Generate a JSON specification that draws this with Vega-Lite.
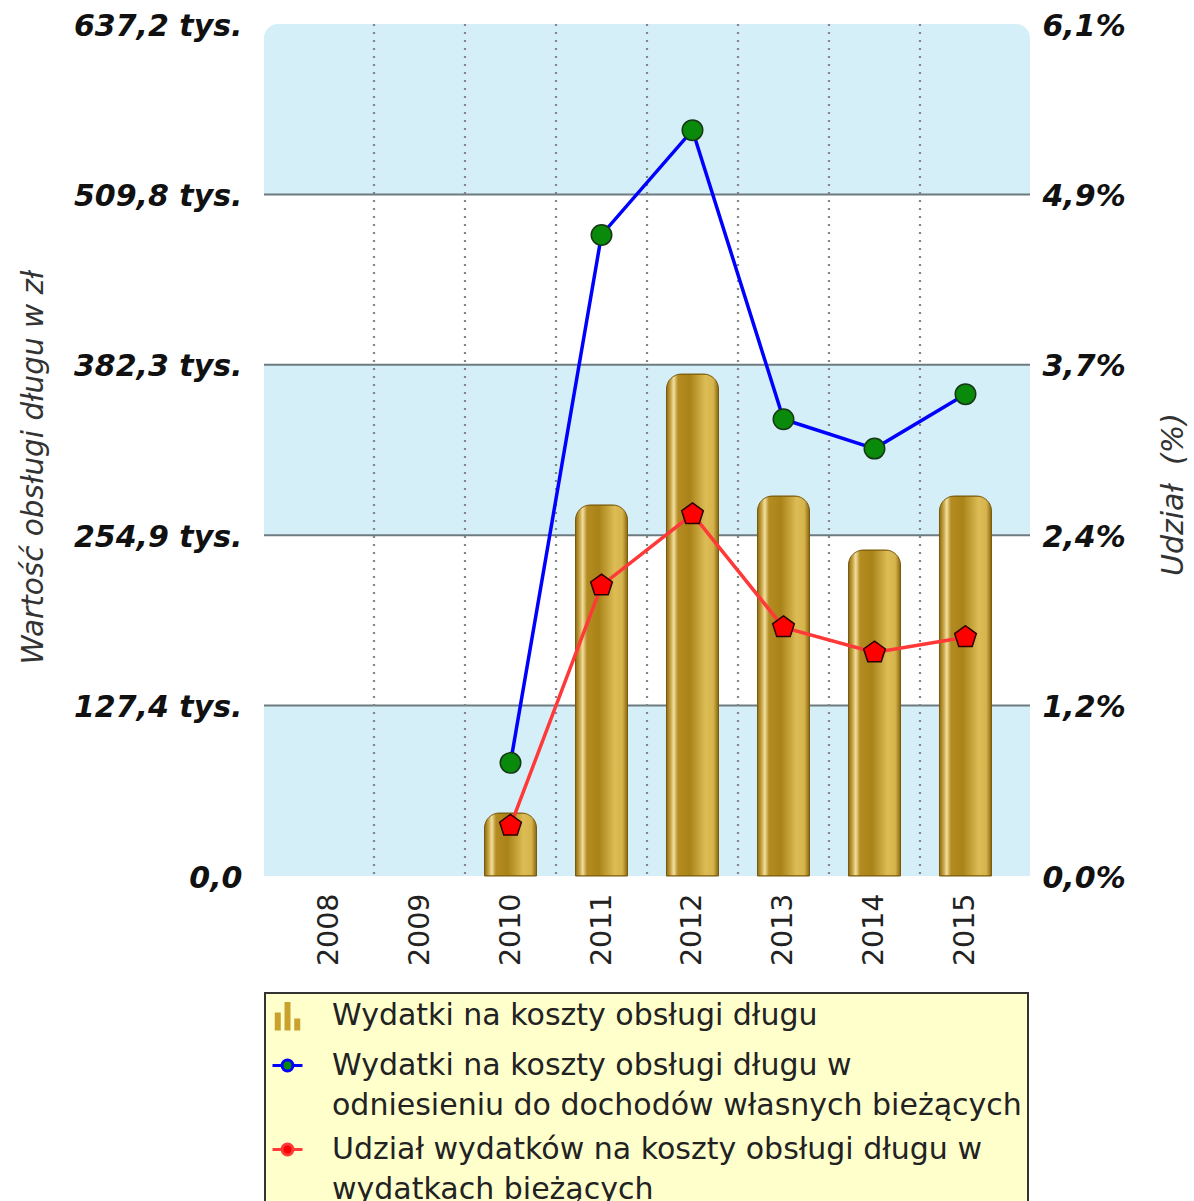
{
  "$schema": "https://vega.github.io/schema/vega-lite/v6.json",
  "autosize": {"type": "none"},
  "padding": {"left": 264, "top": 24, "right": 164, "bottom": 325},
  "width": 766,
  "height": 852,
  "background": "#ffffff",
  "config": {
    "view": {"stroke": null},
    "font": "DejaVu Sans",
    "legend": {
      "fillColor": "#ffffcc", "strokeColor": "#333333", "padding": 6,
      "labelFontSize": 30, "labelColor": "#222222", "labelLimit": 1000,
      "labelOffset": 28, "symbolSize": 900, "symbolStrokeWidth": 3,
      "rowPadding": 12, "symbolOpacity": 1
    }
  },
  "datasets": {
    "years": [
      {"year": "2008", "wydatki": null, "odniesienie": null, "udzial": null},
      {"year": "2009", "wydatki": null, "odniesienie": null, "udzial": null},
      {"year": "2010", "wydatki": 47.1, "odniesienie": 0.81, "udzial": 0.36},
      {"year": "2011", "wydatki": 277.5, "odniesienie": 4.59, "udzial": 2.08},
      {"year": "2012", "wydatki": 375.4, "odniesienie": 5.34, "udzial": 2.59},
      {"year": "2013", "wydatki": 284.2, "odniesienie": 3.27, "udzial": 1.78},
      {"year": "2014", "wydatki": 243.8, "odniesienie": 3.06, "udzial": 1.6},
      {"year": "2015", "wydatki": 284.2, "odniesienie": 3.45, "udzial": 1.71}
    ],
    "blueBands": [
      {"lo": 0, "hi": 127.44},
      {"lo": 254.88, "hi": 382.32},
      {"lo": 509.76, "hi": 637.2}
    ],
    "whiteBands": [
      {"lo": 127.44, "hi": 254.88},
      {"lo": 382.32, "hi": 509.76}
    ],
    "series": [
      {"series": "Wydatki na koszty obsługi długu"},
      {"series": "Wydatki na koszty obsługi długu w odniesieniu do dochodów własnych bieżących"},
      {"series": "Udział wydatków na koszty obsługi długu w wydatkach bieżących"}
    ]
  },
  "data": {"name": "years"},
  "layer": [
    {
      "layer": [
        {
          "data": {"name": "blueBands"},
          "transform": [{"filter": "datum.hi < 600"}],
          "mark": {"type": "rect", "color": "#d5eff9"},
          "encoding": {
            "y": {
              "field": "lo", "type": "quantitative",
              "scale": {"domain": [0, 637.2], "nice": false, "zero": true},
              "axis": {
                "orient": "left",
                "values": [0, 127.44, 254.88, 382.32, 509.76, 637.2],
                "labelExpr": "datum.value == 0 ? '0,0' : replace(format(datum.value, '.1f'), '.', ',') + ' tys.'",
                "labelFontSize": 30, "labelFontWeight": "bold", "labelFontStyle": "italic",
                "labelColor": "#111111", "labelPadding": 22, "labelOffset": 2, "labelFlush": false, "labelOverlap": false,
                "ticks": false, "domain": false, "grid": false,
                "title": "Wartość obsługi długu w zł",
                "titleFontSize": 29.5, "titleFontWeight": "normal", "titleFontStyle": "italic",
                "titleColor": "#333333", "titleAngle": 270, "titleX": -231, "titleY": 443,
                "titleAlign": "center", "titleBaseline": "middle"
              }
            },
            "y2": {"field": "hi"}
          }
        },
        {
          "data": {"name": "blueBands"},
          "transform": [{"filter": "datum.hi > 600"}],
          "mark": {"type": "rect", "color": "#d5eff9", "cornerRadiusTopLeft": 14, "cornerRadiusTopRight": 14},
          "encoding": {
            "y": {"field": "lo", "type": "quantitative", "scale": {"domain": [0, 637.2], "nice": false, "zero": true}},
            "y2": {"field": "hi"}
          }
        },
        {
          "data": {"name": "whiteBands"},
          "mark": {"type": "rule", "color": "#6d7b80", "strokeWidth": 2},
          "encoding": {
            "y": {"field": "lo", "type": "quantitative", "scale": {"domain": [0, 637.2], "nice": false, "zero": true}}
          }
        },
        {
          "data": {"name": "whiteBands"},
          "mark": {"type": "rule", "color": "#6d7b80", "strokeWidth": 2},
          "encoding": {
            "y": {"field": "hi", "type": "quantitative", "scale": {"domain": [0, 637.2], "nice": false, "zero": true}}
          }
        },
        {
          "transform": [{"filter": "datum.year != '2008'"}],
          "mark": {"type": "rule", "color": "#858585", "strokeWidth": 2.2, "strokeDash": [2, 6]},
          "encoding": {
            "x": {
              "field": "year", "type": "ordinal", "bandPosition": 0,
              "scale": {"type": "band", "domain": ["2008", "2009", "2010", "2011", "2012", "2013", "2014", "2015"], "paddingInner": 0, "paddingOuter": 0.209}
            }
          }
        },
        {
          "mark": {
            "type": "bar", "size": 52, "cornerRadiusTopLeft": 15, "cornerRadiusTopRight": 15,
            "fill": {
              "gradient": "linear", "x1": 0, "x2": 1, "y1": 0, "y2": 0,
              "stops": [
                {"offset": 0, "color": "#8c6a12"},
                {"offset": 0.08, "color": "#c9a545"},
                {"offset": 0.14, "color": "#f2e0a0"},
                {"offset": 0.22, "color": "#b48c22"},
                {"offset": 0.45, "color": "#a98318"},
                {"offset": 0.75, "color": "#dcbc55"},
                {"offset": 0.9, "color": "#d6b44c"},
                {"offset": 1, "color": "#8a6810"}
              ]
            },
            "stroke": "#7a5a0a", "strokeWidth": 1
          },
          "encoding": {
            "x": {
              "field": "year", "type": "ordinal",
              "scale": {"type": "band", "domain": ["2008", "2009", "2010", "2011", "2012", "2013", "2014", "2015"], "paddingInner": 0, "paddingOuter": 0.209},
              "axis": {
                "title": null, "labelAngle": 270, "labelFontSize": 28.5, "labelColor": "#222222",
                "labelPadding": 17, "labelAlign": "right", "labelBaseline": "middle",
                "ticks": false, "domain": false, "grid": false
              }
            },
            "y": {"field": "wydatki", "type": "quantitative", "scale": {"domain": [0, 637.2], "nice": false, "zero": true}}
          }
        }
      ]
    },
    {
      "layer": [
        {
          "mark": {"type": "line", "strokeWidth": 3.5, "color": "#0000ff"},
          "encoding": {
            "x": {
              "field": "year", "type": "ordinal",
              "scale": {"type": "band", "domain": ["2008", "2009", "2010", "2011", "2012", "2013", "2014", "2015"], "paddingInner": 0, "paddingOuter": 0.209}
            },
            "y": {
              "field": "odniesienie", "type": "quantitative",
              "scale": {"domain": [0, 6.1], "nice": false, "zero": true},
              "axis": {
                "orient": "right",
                "values": [0, 1.22, 2.44, 3.66, 4.88, 6.1],
                "labelExpr": "replace(format(datum.value, '.1f'), '.', ',') + '%'",
                "labelFontSize": 30, "labelFontWeight": "bold", "labelFontStyle": "italic",
                "labelColor": "#111111", "labelPadding": 12, "labelOffset": 2, "labelFlush": false, "labelOverlap": false,
                "ticks": false, "domain": false, "grid": false,
                "title": "Udział\u00a0 (%)",
                "titleFontSize": 30, "titleFontWeight": "normal", "titleFontStyle": "italic",
                "titleColor": "#333333", "titleAngle": 270, "titleX": 143, "titleY": 470,
                "titleAlign": "center", "titleBaseline": "middle"
              }
            }
          }
        },
        {
          "mark": {"type": "line", "strokeWidth": 3.5, "color": "#ff3838"},
          "encoding": {
            "x": {
              "field": "year", "type": "ordinal",
              "scale": {"type": "band", "domain": ["2008", "2009", "2010", "2011", "2012", "2013", "2014", "2015"], "paddingInner": 0, "paddingOuter": 0.209}
            },
            "y": {"field": "udzial", "type": "quantitative", "scale": {"domain": [0, 6.1], "nice": false, "zero": true}}
          }
        },
        {
          "mark": {"type": "point", "shape": "circle", "filled": true, "fill": "#0a8a0a", "stroke": "#163816", "strokeWidth": 1.5, "size": 420, "opacity": 1},
          "encoding": {
            "x": {
              "field": "year", "type": "ordinal",
              "scale": {"type": "band", "domain": ["2008", "2009", "2010", "2011", "2012", "2013", "2014", "2015"], "paddingInner": 0, "paddingOuter": 0.209}
            },
            "y": {"field": "odniesienie", "type": "quantitative", "scale": {"domain": [0, 6.1], "nice": false, "zero": true}}
          }
        },
        {
          "mark": {"type": "point", "shape": "M0,-1L0.951,-0.309L0.588,0.809L-0.588,0.809L-0.951,-0.309Z", "filled": true, "fill": "#ff0000", "stroke": "#2a0000", "strokeWidth": 1.5, "size": 520, "opacity": 1},
          "encoding": {
            "x": {
              "field": "year", "type": "ordinal",
              "scale": {"type": "band", "domain": ["2008", "2009", "2010", "2011", "2012", "2013", "2014", "2015"], "paddingInner": 0, "paddingOuter": 0.209}
            },
            "y": {"field": "udzial", "type": "quantitative", "scale": {"domain": [0, 6.1], "nice": false, "zero": true}}
          }
        }
      ]
    },
    {
      "data": {"name": "series"},
      "transform": [{"filter": "false"}],
      "mark": {"type": "point", "filled": true, "opacity": 1},
      "encoding": {
        "fill": {
          "field": "series", "type": "nominal",
          "scale": {
            "domain": ["Wydatki na koszty obsługi długu", "Wydatki na koszty obsługi długu w odniesieniu do dochodów własnych bieżących", "Udział wydatków na koszty obsługi długu w wydatkach bieżących"],
            "range": ["#c9a22e", "#0a8a0a", "#ff0000"]
          },
          "legend": {
            "title": null, "orient": "none", "legendX": 1, "legendY": 969,
            "labelExpr": "datum.label === 'Wydatki na koszty obsługi długu w odniesieniu do dochodów własnych bieżących' ? ['Wydatki na koszty obsługi długu w', 'odniesieniu do dochodów własnych bieżących'] : datum.label === 'Udział wydatków na koszty obsługi długu w wydatkach bieżących' ? ['Udział wydatków na koszty obsługi długu w', 'wydatkach bieżących'] : datum.label",
            "encode": {
              "labels": {"update": {"lineHeight": {"value": 40}}},
              "legend": {"update": {"strokeWidth": {"value": 2}}}
            }
          }
        },
        "stroke": {
          "field": "series", "type": "nominal",
          "scale": {
            "domain": ["Wydatki na koszty obsługi długu", "Wydatki na koszty obsługi długu w odniesieniu do dochodów własnych bieżących", "Udział wydatków na koszty obsługi długu w wydatkach bieżących"],
            "range": ["transparent", "#0000ff", "#ff3838"]
          },
          "legend": {
            "title": null, "orient": "none", "legendX": 1, "legendY": 969,
            "labelExpr": "datum.label === 'Wydatki na koszty obsługi długu w odniesieniu do dochodów własnych bieżących' ? ['Wydatki na koszty obsługi długu w', 'odniesieniu do dochodów własnych bieżących'] : datum.label === 'Udział wydatków na koszty obsługi długu w wydatkach bieżących' ? ['Udział wydatków na koszty obsługi długu w', 'wydatkach bieżących'] : datum.label"
          }
        },
        "shape": {
          "field": "series", "type": "nominal",
          "scale": {
            "domain": ["Wydatki na koszty obsługi długu", "Wydatki na koszty obsługi długu w odniesieniu do dochodów własnych bieżących", "Udział wydatków na koszty obsługi długu w wydatkach bieżących"],
            "range": [
              "M-0.85,1L-0.85,-0.2L-0.45,-0.2L-0.45,1ZM-0.2,1L-0.2,-0.9L0.2,-0.9L0.2,1ZM0.45,1L0.45,0.2L0.85,0.2L0.85,1Z",
              "M-1,0L-0.36,0M0.36,0L1,0M0.36,0A0.36,0.36 0 1,1 -0.36,0A0.36,0.36 0 1,1 0.36,0Z",
              "M-1,0L-0.36,0M0.36,0L1,0M0.36,0A0.36,0.36 0 1,1 -0.36,0A0.36,0.36 0 1,1 0.36,0Z"
            ]
          },
          "legend": {
            "title": null, "orient": "none", "legendX": 1, "legendY": 969,
            "labelExpr": "datum.label === 'Wydatki na koszty obsługi długu w odniesieniu do dochodów własnych bieżących' ? ['Wydatki na koszty obsługi długu w', 'odniesieniu do dochodów własnych bieżących'] : datum.label === 'Udział wydatków na koszty obsługi długu w wydatkach bieżących' ? ['Udział wydatków na koszty obsługi długu w', 'wydatkach bieżących'] : datum.label"
          }
        }
      }
    }
  ],
  "resolve": {"scale": {"y": "independent"}}
}
